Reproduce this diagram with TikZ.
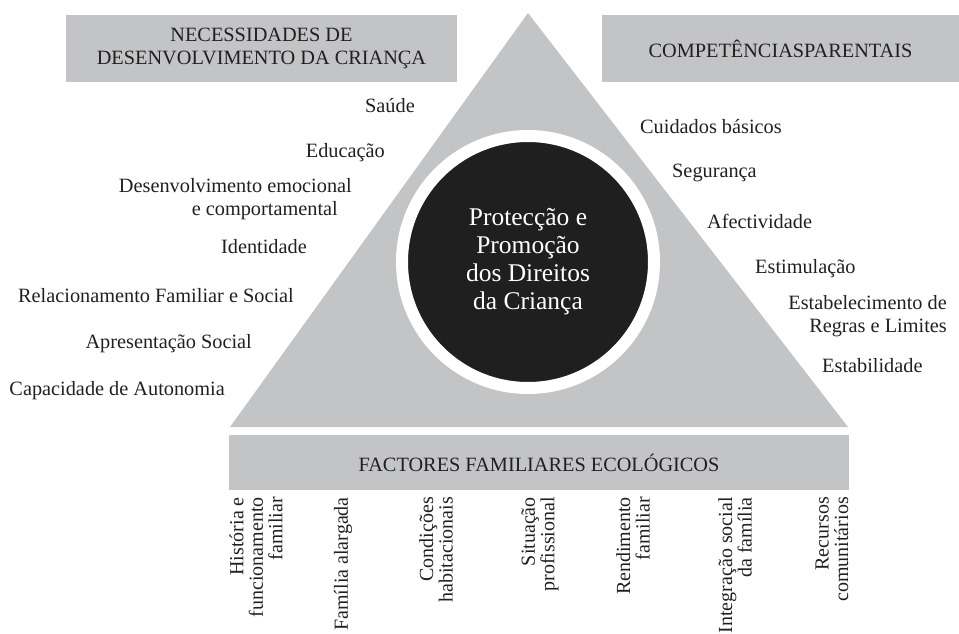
\documentclass[tikz,border=0pt]{standalone}
\usepackage{fontspec}
\setmainfont{Liberation Serif}
\definecolor{boxgray}{HTML}{C3C4C6}
\definecolor{ink}{HTML}{231F20}
\definecolor{core}{HTML}{1F1F1F}
\begin{document}
\begin{tikzpicture}[x=1pt,y=-1pt,
  titlebox/.style={fill=boxgray, align=center, text=ink, inner sep=0pt,
    font=\fontsize{20.3}{23}\selectfont},
  item/.style={text=ink, inner sep=0pt, text height=14.5pt, text depth=4.5pt,
    font=\fontsize{20.3}{22}\selectfont},
  mitem/.style={text=ink, inner sep=0pt, font=\fontsize{20.3}{22.5}\selectfont},
  vitem/.style={rotate=90, anchor=east, align=right, text=ink, inner sep=0pt,
    font=\fontsize{20}{19.5}\selectfont}]
\useasboundingbox (0,0) rectangle (959,634);
% triangle
\coordinate (apex) at (528,13);
\coordinate (bl) at (230,427);
\coordinate (br) at (848,427);
\fill[boxgray] (apex) -- (bl) -- (br) -- cycle;
% title boxes
\node[titlebox, minimum width=391pt, minimum height=67pt] (need) at (261.5,48.5)
  {NECESSIDADES DE\\DESENVOLVIMENTO DA CRIANÇA};
\node[titlebox, minimum width=357pt, minimum height=67pt] (comp) at (780.5,48.5)
  {COMPETÊNCIASPARENTAIS};
\node[titlebox, minimum width=620pt, minimum height=55pt] (eco) at (539,462.5)
  {FACTORES FAMILIARES ECOLÓGICOS};
% central circle
\node[circle, fill=core, draw=white, line width=12pt, minimum size=252pt,
  inner sep=0pt, text=white, align=center,
  font=\fontsize{25.5}{28}\selectfont] (centre) at (528,262)
  {Protecção e\\Promoção\\dos Direitos\\da Criança};
% left list
\node[item, anchor=east] (n1) at (415,107) {Saúde};
\node[item, anchor=east] (n2) at (385,152) {Educação};
\node[mitem, anchor=east, align=right] (n3) at (352,199)
  {Desenvolvimento emocional\\e comportamental\hspace*{14pt}};
\node[item, anchor=east] (n4) at (307,248) {Identidade};
\node[item, anchor=east] (n5) at (294,297) {Relacionamento Familiar e Social};
\node[item, anchor=east] (n6) at (252,343) {Apresentação Social};
\node[item, anchor=east] (n7) at (225,390) {Capacidade de Autonomia};
% right list
\node[item, anchor=west] (c1) at (640,128) {Cuidados básicos};
\node[item, anchor=west] (c2) at (672,172) {Segurança};
\node[item, anchor=west] (c3) at (707,223) {Afectividade};
\node[item, anchor=west] (c4) at (755,268) {Estimulação};
\node[mitem, anchor=east, align=right] (c5) at (947,316)
  {Estabelecimento de\\Regras e Limites};
\node[item, anchor=west] (c6) at (822,367) {Estabilidade};
% bottom vertical list
\node[vitem] (f1) at (256,497) {História e\\funcionamento\\familiar};
\node[vitem] (f2) at (343,497) {Família alargada};
\node[vitem] (f3) at (436,497) {Condições\\habitacionais};
\node[vitem] (f4) at (540,497) {Situação\\profissional};
\node[vitem] (f5) at (633,497) {Rendimento\\familiar};
\node[vitem] (f6) at (735,497) {Integração social\\da família};
\node[vitem] (f7) at (832,497) {Recursos\\comunitários};
\end{tikzpicture}
\end{document}
